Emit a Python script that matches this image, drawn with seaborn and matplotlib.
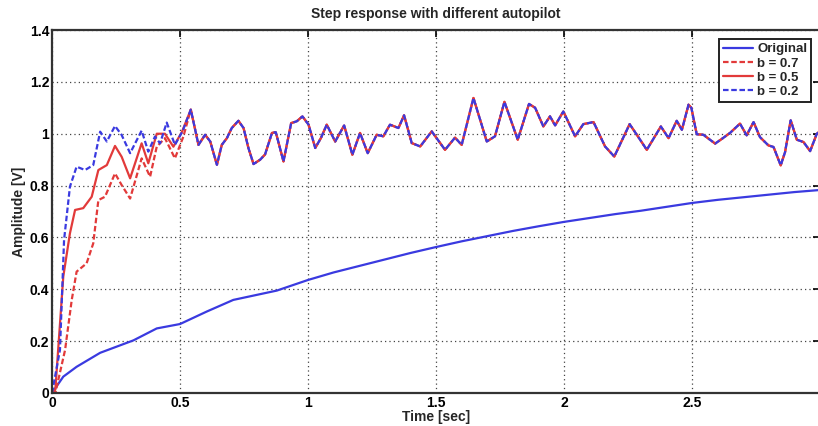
import pandas as pd
import matplotlib
matplotlib.use("Agg")
import matplotlib.pyplot as plt
import seaborn as sns

# --------------------------------------------------
# DATA
# --------------------------------------------------

orig_t = [0.0, 0.044, 0.096, 0.188, 0.318, 0.409, 0.500, 0.604, 0.708, 0.878,
          1.0, 1.1, 1.2, 1.3, 1.4, 1.5, 1.6, 1.7, 1.8, 1.9,
          2.0, 2.1, 2.2, 2.3, 2.4, 2.5, 2.6, 2.7, 2.8, 2.9, 3.0]
orig_v = [0.0, 0.063, 0.101, 0.155, 0.203, 0.249, 0.266, 0.314, 0.359, 0.395,
          0.436, 0.465, 0.490, 0.515, 0.540, 0.563, 0.585, 0.605, 0.625, 0.643,
          0.660, 0.675, 0.690, 0.703, 0.718, 0.733, 0.745, 0.755, 0.765, 0.775, 0.783]

b07_t = [0.0, 0.013, 0.051, 0.077, 0.096, 0.135, 0.161, 0.181, 0.207, 0.246,
         0.272, 0.305, 0.350, 0.383, 0.409, 0.441, 0.480, 0.513]
b07_v = [0.0, 0.0, 0.166, 0.359, 0.468, 0.500, 0.577, 0.744, 0.757, 0.847,
         0.802, 0.750, 0.905, 0.834, 0.950, 0.983, 0.905, 0.989]

b05_t = [0.0, 0.013, 0.044, 0.070, 0.090, 0.122, 0.155, 0.181, 0.214, 0.246,
         0.272, 0.305, 0.350, 0.376, 0.409, 0.441, 0.474, 0.507]
b05_v = [0.0, 0.013, 0.449, 0.616, 0.706, 0.713, 0.757, 0.860, 0.879, 0.953,
         0.911, 0.828, 0.963, 0.886, 1.000, 1.000, 0.950, 1.006]

b02_t = [0.0, 0.031, 0.047, 0.070, 0.096, 0.129, 0.161, 0.188, 0.214, 0.246,
         0.272, 0.305, 0.350, 0.376, 0.402, 0.422, 0.448, 0.480, 0.510]
b02_v = [0.0, 0.166, 0.590, 0.796, 0.873, 0.860, 0.879, 1.008, 0.970, 1.030,
         0.995, 0.925, 1.012, 0.931, 0.989, 0.963, 1.043, 0.957, 1.010]

# after ~0.54 s all autopilot responses follow the same trace
common_t = [0.542, 0.572, 0.598, 0.618, 0.644, 0.663, 0.683, 0.702, 0.728, 0.748,
            0.767, 0.787, 0.813, 0.832, 0.859, 0.874, 0.904, 0.934, 0.956, 0.978,
            1.002, 1.028, 1.050, 1.073, 1.106, 1.141, 1.173, 1.203, 1.233, 1.268,
            1.294, 1.320, 1.353, 1.375, 1.405, 1.438, 1.483, 1.535, 1.574, 1.600,
            1.646, 1.698, 1.730, 1.767, 1.819, 1.863, 1.887, 1.919, 1.945, 1.965,
            1.997, 2.043, 2.075, 2.115, 2.160, 2.196, 2.256, 2.284, 2.323, 2.378,
            2.408, 2.440, 2.460, 2.486, 2.497, 2.518, 2.544, 2.590, 2.616, 2.648,
            2.687, 2.713, 2.740, 2.765, 2.798, 2.818, 2.846, 2.863, 2.885, 2.909,
            2.935, 2.961, 2.987, 3.000]
common_v = [1.093, 0.957, 0.996, 0.970, 0.880, 0.957, 0.983, 1.022, 1.050, 1.022,
            0.945, 0.883, 0.900, 0.920, 1.003, 1.006, 0.893, 1.041, 1.048, 1.067,
            1.035, 0.945, 0.983, 1.035, 0.970, 1.032, 0.919, 1.003, 0.925, 0.996,
            0.990, 1.035, 1.022, 1.071, 0.964, 0.951, 1.009, 0.938, 0.985, 0.957,
            1.138, 0.970, 0.990, 1.123, 0.977, 1.115, 1.100, 1.028, 1.067, 1.032,
            1.086, 0.990, 1.037, 1.045, 0.951, 0.912, 1.037, 0.996, 0.938, 1.028,
            0.983, 1.050, 1.015, 1.112, 1.100, 0.998, 0.996, 0.962, 0.980, 1.003,
            1.039, 0.994, 1.045, 0.987, 0.955, 0.949, 0.878, 0.929, 1.052, 0.977,
            0.968, 0.933, 1.000, 1.010]

series_names = ["Original", "b = 0.7", "b = 0.5", "b = 0.2"]
x_ticks = [0, 0.5, 1, 1.5, 2, 2.5]
x_tick_labels = ["0", "0.5", "1", "1.5", "2", "2.5"]
y_ticks = [0, 0.2, 0.4, 0.6, 0.8, 1.0, 1.2, 1.4]
y_tick_labels = ["0", "0.2", "0.4", "0.6", "0.8", "1", "1.2", "1.4"]

# --------------------------------------------------
# LONG TABLE
# --------------------------------------------------

frames = [
    pd.DataFrame({"time": orig_t, "amp": orig_v, "series": "Original"}),
    pd.DataFrame({"time": b07_t + common_t, "amp": b07_v + common_v, "series": "b = 0.7"}),
    pd.DataFrame({"time": b05_t + common_t, "amp": b05_v + common_v, "series": "b = 0.5"}),
    pd.DataFrame({"time": b02_t + common_t, "amp": b02_v + common_v, "series": "b = 0.2"}),
]
df = pd.concat(frames, ignore_index=True)

# --------------------------------------------------
# PLOT
# --------------------------------------------------

sns.set_style("white")
plt.rcParams["font.family"] = ["Liberation Sans Narrow", "Liberation Sans", "DejaVu Sans"]
plt.rcParams["font.weight"] = "bold"

fig = plt.figure(figsize=(8.18, 4.26), dpi=100)
ax = fig.add_axes([0.0636, 0.0775, 0.939, 0.852])

palette = {
    "Original": "#3a3ae0",
    "b = 0.7": "#e23a3a",
    "b = 0.5": "#e23a3a",
    "b = 0.2": "#3a3ae0",
}
dashes = {
    "Original": "",
    "b = 0.7": (2.5, 1.2),
    "b = 0.5": "",
    "b = 0.2": (2.5, 1.2),
}

sns.lineplot(
    data=df,
    x="time",
    y="amp",
    hue="series",
    style="series",
    hue_order=series_names,
    style_order=series_names,
    palette=palette,
    dashes=dashes,
    estimator=None,
    sort=False,
    linewidth=1.6,
    ax=ax
)

ax.set_xlim(0, 3)
ax.set_ylim(0, 1.4)
ax.set_xticks(x_ticks)
ax.set_xticklabels(x_tick_labels)
ax.set_yticks(y_ticks)
ax.set_yticklabels(y_tick_labels)

ax.grid(True, linestyle=(0, (1, 2.5)), color="#444444", linewidth=0.9)
ax.tick_params(direction="in", length=5, width=1.2, labelsize=10,
               top=True, right=True, pad=2, colors="black")
for lab in ax.get_xticklabels() + ax.get_yticklabels():
    lab.set_fontweight("bold")

for spine in ax.spines.values():
    spine.set_color("#333333")
    spine.set_linewidth(1.6)

ax.set_title("Step response with different autopilot", fontsize=10,
             fontweight="bold", pad=9)
ax.set_xlabel("Time [sec]", fontsize=10, fontweight="bold", labelpad=0)
ax.set_ylabel("Amplitude [V]", fontsize=10, fontweight="bold", labelpad=3)

handles, labels = ax.get_legend_handles_labels()
leg = ax.legend(
    handles,
    labels,
    loc="upper right",
    bbox_to_anchor=(0.997, 0.993),
    fancybox=False,
    framealpha=1,
    edgecolor="#222222",
    borderpad=0.3,
    labelspacing=0.15,
    handlelength=2.3,
    handletextpad=0.3,
    prop={"weight": "bold", "size": 9.5}
)
leg.get_frame().set_linewidth(1.4)

plt.savefig("out.png", dpi=100)
plt.close()
